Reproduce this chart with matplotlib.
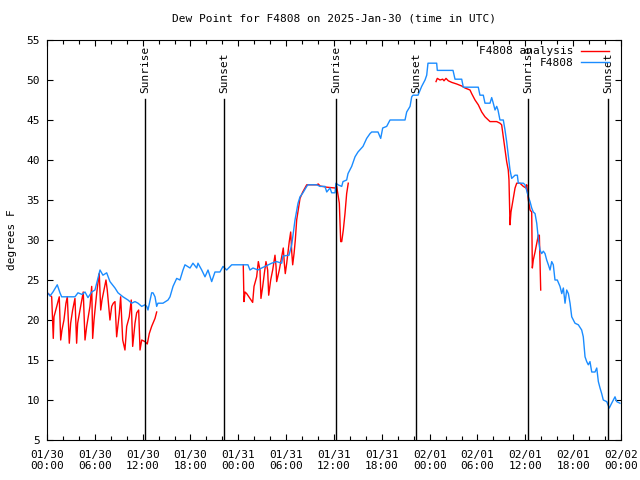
"""Dew point trace for station F4808, gnuplot-style rendering."""

import matplotlib
matplotlib.use("Agg")
import matplotlib.dates as mdates
import matplotlib.pyplot as plt
import numpy as np
import pandas as pd

BASE = pd.Timestamp("2025-01-30 00:00")
NAN = np.nan

# Observed dew point (hours after 01/30 00:00 UTC, degrees F)
obs_hours = [
    0.16, 0.38, 0.75, 1.29, 1.63, 1.84, 3.51, 3.89, 4.39, 4.77, 5.14, 5.61,
    6.02, 6.65, 7.02, 7.49, 7.90, 8.53, 8.91, 9.53, 10.16, 10.62, 11.04, 11.42,
    11.88, 12.29, 12.51, 12.67, 13.13, 13.30, 13.55, 13.76, 13.92, 14.55, 15.18,
    15.43, 15.81, 16.27, 16.68, 17.06, 17.31, 17.94, 18.31, 18.78, 18.94, 19.41,
    19.82, 20.20, 20.66, 21.07, 21.70, 22.08, 22.54, 23.17, 25.21, 25.46, 25.84,
    26.47, 26.93, 27.34, 27.72, 28.19, 28.81, 29.44, 29.60, 30.36, 30.70, 31.11,
    31.49, 31.74, 32.11, 32.58, 32.74, 33.83, 34.25, 34.87, 35.09, 35.50, 35.71,
    36.13, 36.25, 36.50, 36.97, 37.13, 37.59, 37.76, 38.22, 38.64, 39.01, 39.64,
    40.10, 40.52, 40.73, 41.52, 41.86, 42.11, 42.61, 43.03, 44.91, 45.12, 45.54,
    45.75, 45.91, 46.54, 47.00, 47.42, 47.63, 47.79, 48.26, 48.88, 48.96, 50.93,
    51.18, 52.02, 52.22, 54.10, 54.31, 54.73, 54.94, 55.57, 55.78, 55.98, 56.20,
    56.41, 56.57, 56.82, 57.24, 57.45, 57.66, 57.86, 58.08, 58.29, 58.71, 59.00,
    59.12, 59.75, 59.96, 60.17, 60.38, 60.59, 60.80, 61.00, 61.22, 61.43, 61.63,
    61.84, 62.05, 62.26, 62.47, 62.68, 62.89, 63.10, 63.31, 63.51, 63.72, 64.01,
    64.35, 64.57, 64.77, 64.98, 65.19, 65.40, 65.61, 65.82, 66.23, 66.65, 67.07,
    67.27, 67.49, 67.70, 67.90, 68.11, 68.33, 68.74, 68.96, 69.16, 69.37, 69.58,
    69.78, 70.21, 70.53, 70.83, 71.25, 71.46, 71.87,
]
obs_dewpt = [
    23.3, 23.0, 23.5, 24.4, 23.4, 22.9, 22.9, 23.4, 23.2, 23.5, 22.8, 23.5,
    23.75, 26.25, 25.6, 25.9, 24.8, 24.0, 23.4, 22.9, 22.5, 22.1, 22.3, 22.1,
    21.7, 21.9, 21.7, 21.25, 23.4, 23.4, 22.9, 21.7, 22.1, 22.1, 22.5,
    22.9, 24.2, 25.2, 25.0, 26.25, 26.9, 26.5, 27.1, 26.5, 27.1, 26.25,
    25.4, 26.25, 24.8, 26.0, 26.0, 26.7, 26.25, 26.9, 26.9, 26.25, 26.5,
    26.25, 26.5, 26.7, 26.9, 27.1, 27.3, 27.1, 28.0, 28.1, 29.4, 32.5,
    34.6, 35.4, 35.9, 36.7, 36.9, 36.9, 36.7, 36.7, 36.0, 36.5, 35.9,
    35.9, 37.1, 36.9, 36.7, 37.3, 37.5, 38.3, 39.2, 40.4, 41.0, 41.7,
    42.7, 43.3, 43.5, 43.5, 42.7, 44.0, 44.2, 45.0, 45.0, 46.0, 46.7,
    47.9, 48.1, 48.1, 49.2, 50.0, 50.6, 52.1, 52.1, 52.1, 51.2, 51.2,
    50.1, 50.1, 49.1, 49.1, 48.1, 48.1, 47.1, 47.1, 47.8, 47.1, 46.25,
    46.7, 46.25, 45.0, 45.0, 43.75, 42.3, 40.6, 38.75, 37.7, 38.1, 38.1,
    37.1, 37.1, 36.9, 36.2, 35.4, 34.8, 34.0, 33.5, 33.3, 32.1, 30.2,
    28.75, 28.3, 28.6, 28.3, 27.5, 26.9, 26.25, 27.3, 26.9, 25.0, 25.0,
    24.2, 23.3, 24.0, 22.1, 23.75, 23.3, 22.1, 20.4, 19.6, 19.4, 18.75,
    17.9, 15.4, 14.8, 14.4, 14.8, 13.5, 13.5, 14.0, 12.3, 11.5, 10.8,
    10.0, 9.8, 9.0, 9.6, 10.4, 9.8, 9.6,
]

# Analysis dew point, NaN marks the gaps between analysis periods
ana_hours = [
    0.16, 0.59, 0.79, 0.88, 1.22, 1.54, 1.72, 1.88, 2.13, 2.38, 2.55, 2.80,
    2.97, 3.22, 3.51, 3.72, 3.85, 4.14, 4.55, 4.77, 4.98, 5.39, 5.61, 5.73,
    5.90, 6.23, 6.44, 6.56, 6.74, 6.90, 7.06, 7.40, 7.56, 7.90, 8.12, 8.32,
    8.53, 8.74, 9.07, 9.24, 9.50, 9.78, 10.00, 10.32, 10.57, 10.75, 11.04,
    11.25, 11.50, 11.67, 11.88, 12.29, 12.58, 12.83, 13.13, 13.55, 13.76,
    19.0,
    24.62, 24.71, 24.84, 25.05, 25.46, 25.80, 25.97, 26.30, 26.51, 26.72,
    26.84, 27.06, 27.26, 27.47, 27.68, 27.81, 28.06, 28.31, 28.60, 28.73,
    28.81, 29.14, 29.44, 29.64, 29.77, 29.89, 30.07, 30.39, 30.57, 30.70,
    30.82, 30.99, 31.15, 31.32, 31.52, 31.74, 32.08, 32.58, 33.83, 34.03,
    34.25, 35.09, 36.13, 36.34, 36.67, 36.84, 36.97, 37.17, 37.38, 37.59,
    37.79,
    43.0,
    48.80, 48.96, 49.30, 49.64, 49.80, 50.05, 50.34, 50.77, 51.39, 52.02,
    52.43, 53.06, 53.27, 53.69, 54.10, 54.53, 54.94, 55.57, 56.41, 56.82,
    57.03, 57.24, 57.45, 57.66, 57.86, 57.95, 58.08, 58.20, 58.42, 58.71,
    58.92, 59.33, 59.75, 60.09, 60.17, 60.38, 60.59, 60.80, 60.88, 61.00,
    61.22, 61.43, 61.63, 61.76, 61.84, 61.93,
]
ana_dewpt = [
    23.3, 22.9, 17.7, 20.4, 21.7, 22.9, 17.5, 18.75, 20.0, 22.1, 22.9, 17.1,
    19.6, 21.25, 22.7, 17.1, 19.6, 21.25, 23.5, 17.5, 19.2, 21.7, 24.2, 17.7,
    20.0, 23.3, 25.0, 25.8, 21.25, 22.5, 23.3, 25.0, 23.75, 20.0, 21.7, 22.1,
    22.3, 17.9, 20.8, 22.9, 17.5, 16.25, 19.2, 20.4, 22.5, 16.7, 19.6,
    20.9, 21.25, 16.25, 17.5, 17.3, 17.0, 18.3, 19.2, 20.2, 21.0,
    NAN,
    26.9, 22.3, 23.5, 23.3, 22.7, 22.2, 24.2, 25.4, 27.3, 26.25,
    22.7, 24.2, 25.8, 27.3, 26.25, 23.1, 25.0, 26.25, 28.1, 26.7,
    24.8, 26.25, 27.9, 29.0, 27.1, 25.8, 27.1, 29.8, 31.0, 28.5,
    26.9, 28.3, 30.0, 32.5, 33.75, 35.2, 36.0, 36.9, 36.9, 37.0,
    36.75, 36.6, 36.5, 36.7, 34.6, 29.8, 29.8, 31.25, 33.3, 35.8,
    37.1,
    NAN,
    49.8, 50.2, 50.0, 50.1, 49.9, 50.2, 49.9, 49.7, 49.5, 49.25,
    49.0, 48.75, 48.3, 47.5, 46.9, 46.0, 45.4, 44.8, 44.8, 44.6,
    44.4, 42.9, 41.5, 39.8, 38.75, 37.5, 31.9, 33.5, 34.8, 36.5,
    37.1, 37.1, 36.7, 36.5, 36.9, 35.0, 33.75, 33.5, 26.5, 27.5,
    28.5, 29.6, 30.6, 30.6, 27.5, 23.75,
]

sun_hours = [12.33, 22.24, 36.29, 46.32, 60.37, 70.41]
sun_labels = ["Sunrise", "Sunset", "Sunrise", "Sunset", "Sunrise", "Sunset"]


def to_time(hours):
    return BASE + pd.to_timedelta(np.asarray(hours, dtype=float), unit="h")


plt.rcParams["font.family"] = "DejaVu Sans Mono"
plt.rcParams["font.size"] = 8

fig = plt.figure(figsize=(6.4, 4.8), dpi=100)
ax = fig.add_axes([0.0734, 0.0833, 0.8969, 0.8334])

ax.plot(to_time(ana_hours), ana_dewpt, color="#ff0000", lw=1.0,
        label="F4808 analysis")
ax.plot(to_time(obs_hours), obs_dewpt, color="#1a8cff", lw=1.0,
        label="F4808")

# sunrise / sunset markers, label sits just above each line
for h, lab in zip(sun_hours, sun_labels):
    t = to_time([h])[0]
    ax.plot([t, t], [5, 47.6], color="black", lw=1.0)
    ax.text(t, 48.4, lab, rotation=90, ha="center", va="bottom", fontsize=8)

ax.set_xlim(BASE, BASE + pd.Timedelta(hours=72))
ax.set_ylim(5, 55)
ax.set_yticks(np.arange(5, 56, 5))
ax.xaxis.set_major_locator(mdates.HourLocator(byhour=[0, 6, 12, 18]))
ax.xaxis.set_minor_locator(mdates.HourLocator(interval=2))
ax.xaxis.set_major_formatter(mdates.DateFormatter("%m/%d\n%H:%M"))

ax.tick_params(which="both", direction="in", top=True, right=True,
               width=0.8, colors="black")
ax.tick_params(which="major", length=4.5)
ax.tick_params(which="minor", length=3)
ax.tick_params(axis="x", which="major", pad=7)
ax.tick_params(axis="y", which="major", pad=5)
for spine in ax.spines.values():
    spine.set_linewidth(0.8)

ax.set_title("Dew Point for F4808 on 2025-Jan-30 (time in UTC)",
             fontsize=8, pad=13)
ax.set_ylabel("degrees F", labelpad=7)

ax.legend(loc="upper right", bbox_to_anchor=(0.987, 0.995), frameon=False,
          markerfirst=False, handlelength=2.5, handletextpad=0.7,
          labelspacing=0.15, borderaxespad=0.0, fontsize=8)

fig.savefig("out.png", dpi=100)
